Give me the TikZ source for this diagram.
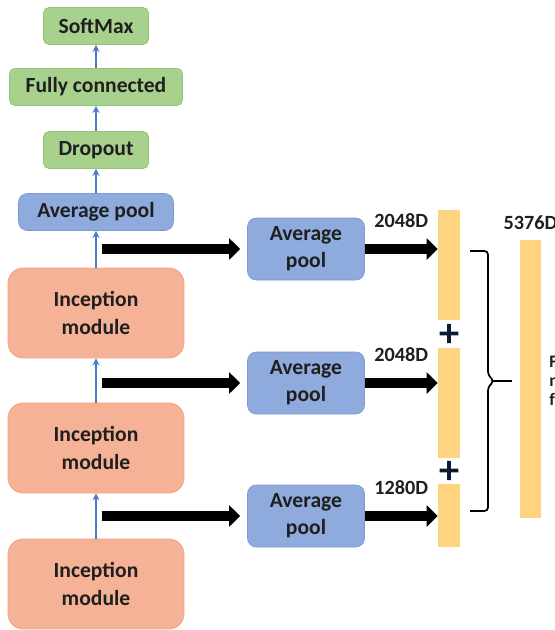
\documentclass[tikz,border=0pt]{standalone}
\usepackage{fontspec}
\setmainfont{Carlito}
\newfontfamily\heavyplus{Carlito}[BoldFont=*, FakeBold=3]
\usepackage{xcolor}
\definecolor{greenfill}{HTML}{A9D18E}
\definecolor{greenline}{HTML}{93C377}
\definecolor{poolfill}{HTML}{8FAADC}
\definecolor{poolline}{HTML}{7B98D4}
\definecolor{incfill}{HTML}{F6B296}
\definecolor{incline}{HTML}{F0A184}
\definecolor{barfill}{HTML}{FFD480}
\definecolor{flowblue}{HTML}{4A78CC}
\definecolor{plusdark}{HTML}{0D1A33}
\usetikzlibrary{arrows.meta, positioning}

\begin{document}
\begin{tikzpicture}[x=0.02cm, y=-0.02cm,
    every node/.style={font=\bfseries\fontsize{12.3}{15.5}\selectfont, text=black!88},
    greenbox/.style={draw=greenline, fill=greenfill, rounded corners=3pt, minimum height=0.74cm},
    poolbox/.style={draw=poolline, fill=poolfill, rounded corners=5pt, align=center},
    incbox/.style={draw=incline, fill=incfill, rounded corners=0.3cm, align=center, minimum width=3.52cm, minimum height=1.8cm},
    bar/.style={fill=barfill, inner sep=0, minimum width=0.44cm},
    flow/.style={-{Stealth[length=4pt, width=4pt]}, draw=flowblue, line width=0.8pt},
    tap/.style={-{Triangle[length=0.22cm, width=0.42cm]}, line width=0.21cm},
    dimtext/.style={inner sep=0, font=\bfseries\fontsize{11.5}{14}\selectfont},
    dimlabel/.style={dimtext, above=0.33cm},
    plus/.style={font=\heavyplus\bfseries\fontsize{22}{22}\selectfont, text=plusdark, inner sep=0}]
    \useasboundingbox (0,0) rectangle (555,630);
    \clip (0,0) rectangle (555,630);

    % Main column
    \node[greenbox, minimum width=2.1cm] (softmax) at (96,26) {SoftMax};
    \node[greenbox, minimum width=3.46cm] (fc) at (96,87) {Fully connected};
    \node[greenbox, minimum width=2.1cm] (dropout) at (96,150) {Dropout};
    \node[poolbox, minimum width=3.1cm, minimum height=0.74cm] (avgpool) at (96,212) {Average pool};
    \node[incbox] (inc1) at (96,313) {Inception\\module};
    \node[incbox] (inc2) at (96,448) {Inception\\module};
    \node[incbox] (inc3) at (96,584) {Inception\\module};

    % Side pools
    \node[poolbox, minimum width=2.34cm, minimum height=1.24cm] (pool1) at (306,249) {Average\\pool};
    \node[poolbox, minimum width=2.34cm, minimum height=1.24cm] (pool2) at (306,383) {Average\\pool};
    \node[poolbox, minimum width=2.34cm, minimum height=1.24cm] (pool3) at (306,516) {Average\\pool};

    % Feature bars
    \node[bar, minimum height=2.2cm] (bar1) at (449,265) {};
    \node[bar, minimum height=2.2cm] (bar2) at (449,403) {};
    \node[bar, minimum height=1.26cm] (bar3) at (449,515.5) {};
    \node[plus] (plus1) at (449,335) {+};
    \node[plus] (plus2) at (449,472) {+};
    \node[bar, minimum width=0.42cm, minimum height=5.56cm] (finalbar) at (530.5,379) {};
    \node[dimtext, above=0.2cm of finalbar] (dimall) {5376D};
    \node[anchor=north west, align=left, inner sep=0, font=\bfseries\fontsize{10}{10.8}\selectfont] (note) at (549,356) {F\\n\\f};

    % Flow up the column
    \draw[flow] (inc3) -- (inc2);
    \draw[flow] (inc2) -- (inc1);
    \draw[flow] (inc1) -- (avgpool);
    \draw[flow] (avgpool) -- (dropout);
    \draw[flow] (dropout) -- (fc);
    \draw[flow] (fc) -- (softmax);

    % Taps to the side pools
    \draw[tap, shorten >=4pt] ([xshift=0.12cm]pool1.west -| inc1.north) -- (pool1.west);
    \draw[tap, shorten >=4pt] ([xshift=0.12cm]pool2.west -| inc1.north) -- (pool2.west);
    \draw[tap, shorten >=4pt] ([xshift=0.12cm]pool3.west -| inc1.north) -- (pool3.west);
    \draw[tap] (pool1.east) -- (pool1.east -| bar1.west) node[midway, dimlabel] (dim1) {2048D};
    \draw[tap] (pool2.east) -- (pool2.east -| bar2.west) node[midway, dimlabel] (dim2) {2048D};
    \draw[tap] (pool3.east) -- (pool3.east -| bar3.west) node[midway, dimlabel] (dim3) {1280D};

    % Brace
    \draw[line width=1pt, rounded corners=2pt] (470,251) -- (488,251) -- (488,375) -- (494,381) -- (488,387) -- (488,511) -- (470,511);
    \draw[line width=1pt] (493,381) -- (512,381);
\end{tikzpicture}
\end{document}
